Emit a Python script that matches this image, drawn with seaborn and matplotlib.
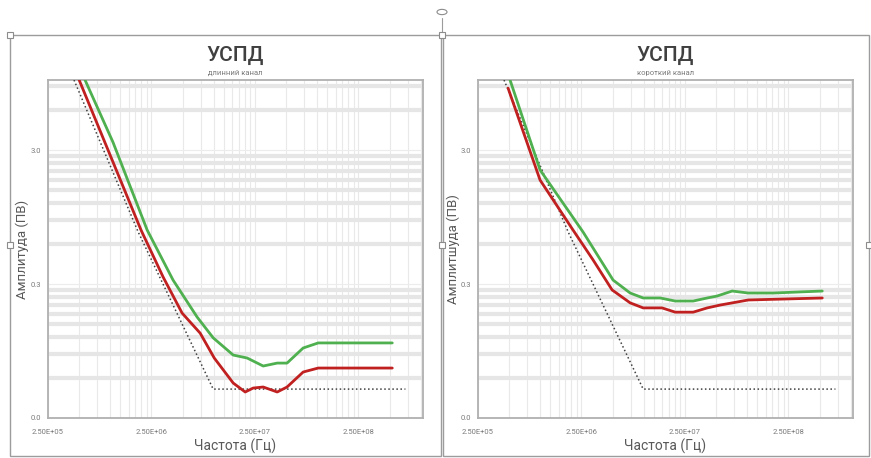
import numpy as np
import pandas as pd
import matplotlib
matplotlib.use("Agg")
import matplotlib.pyplot as plt
import seaborn as sns
from matplotlib.patches import Rectangle, Circle
from matplotlib.lines import Line2D

# ---------------- data ----------------
x_ticks = [2.5e5, 2.5e6, 2.5e7, 2.5e8]
x_tick_labels = ["2.50E+05", "2.50E+06", "2.50E+07", "2.50E+08"]
y_ticks = [0.03, 0.3, 3.0]
y_tick_labels = ["0.0", "0.3", "3.0"]

# mask (dotted), same on both charts
mask_freq = [4.46e5, 1.86e6, 9.86e6, 7.1e8]
mask_amp = [10.0, 0.733, 0.0493, 0.0493]

# long channel
long_green_freq = [5.7e5, 1.06e6, 2.27e6, 4.04e6, 6.9e6, 9.86e6, 1.54e7, 2.1e7,
                   3.0e7, 4.1e7, 5.1e7, 7.3e7, 1.02e8, 5.3e8]
long_green_amp = [10.0, 3.44, 0.759, 0.321, 0.170, 0.119, 0.0885, 0.0841,
                  0.0733, 0.0771, 0.0771, 0.0999, 0.109, 0.109]
long_red_freq = [5.0e5, 1.98e6, 3.24e6, 4.94e6, 7.38e6, 1.01e7, 1.54e7, 2.01e7,
                 2.4e7, 3.0e7, 4.1e7, 5.1e7, 7.3e7, 1.02e8, 5.3e8]
long_red_amp = [10.0, 0.759, 0.338, 0.182, 0.129, 0.0841, 0.0547, 0.0469,
                0.0502, 0.0511, 0.0469, 0.0511, 0.0661, 0.0708, 0.0708]

# short channel
short_green_freq = [5.1e5, 9.95e5, 2.59e6, 5.05e6, 7.38e6, 9.86e6, 1.44e7, 2.01e7,
                    3.0e7, 4.1e7, 5.1e7, 7.15e7, 1.02e8, 1.78e8, 5.3e8]
short_green_amp = [10.0, 2.13, 0.733, 0.321, 0.257, 0.236, 0.236, 0.224,
                   0.224, 0.236, 0.244, 0.266, 0.257, 0.257, 0.266]
short_red_freq = [4.88e5, 9.95e5, 2.07e6, 3.24e6, 4.94e6, 7.38e6, 9.86e6, 1.5e7,
                  2.01e7, 3.0e7, 4.1e7, 5.47e7, 1.02e8, 5.3e8]
short_red_amp = [8.7, 1.79, 0.759, 0.453, 0.271, 0.217, 0.199, 0.199,
                 0.185, 0.185, 0.199, 0.209, 0.228, 0.236]

titles = ["УСПД", "УСПД"]
subtitles = ["длинний канал", "короткий канал"]
ylabels = ["Амплитуда (ПВ)", "Амплитшуда (ПВ)"]
xlabel = "Частота (Гц)"

GREEN = "#4fb04f"
RED = "#c0201f"

sns.set_theme(style="white")
plt.rcParams['font.family'] = ['Roboto', 'DejaVu Sans']

W, H = 871, 458
fig = plt.figure(figsize=(W / 100, H / 100), dpi=100)

def fx(px):
    return px / W

def fy(py):
    return 1 - py / H

# panel frames (Excel chart objects)
for (x0, x1) in [(10, 441), (443, 869)]:
    fig.patches.append(Rectangle((fx(x0), fy(456)), fx(x1 - x0), (456 - 35) / H,
                                 transform=fig.transFigure, fill=False,
                                 edgecolor="#9c9c9c", lw=1.0, zorder=0))
# selection handles
fig.lines.append(Line2D([fx(442), fx(442)], [fy(18), fy(35)], transform=fig.transFigure,
                        color="#9c9c9c", lw=0.8))
fig.patches.append(Circle((fx(442), fy(12)), 5 / W, transform=fig.transFigure,
                          facecolor="white", edgecolor="#8c8c8c", lw=0.8))
for (hx, hy) in [(10, 35), (442, 35), (10, 245), (442, 245), (869, 245)]:
    fig.patches.append(Rectangle((fx(hx - 3), fy(hy + 3)), 6 / W, 6 / H,
                                 transform=fig.transFigure, facecolor="white",
                                 edgecolor="#8c8c8c", lw=0.8, zorder=5))

panels = [
    dict(left=48, green=(long_green_freq, long_green_amp), red=(long_red_freq, long_red_amp),
         ylab_x=22),
    dict(left=478, green=(short_green_freq, short_green_amp), red=(short_red_freq, short_red_amp),
         ylab_x=453),
]

top, bottom, width = 80, 418, 375
XMIN, XMAX = 2.5e5, 1.05e9
YMIN, YMAX = 0.03, 10.0
minor_x = [2.5e5 * m * 10 ** k for k in range(0, 4) for m in range(2, 10)]
minor_x = [v for v in minor_x if v < XMAX]
minor_y = [0.03 * m * 10 ** k for k in range(0, 3) for m in range(2, 10)]
minor_y = [v for v in minor_y if v < YMAX]

for i, p in enumerate(panels):
    ax = fig.add_axes([fx(p["left"]), fy(bottom), width / W, (bottom - top) / H])
    ax.set_xscale("log")
    ax.set_yscale("log")

    for fr, am, col, ls, lw in [(mask_freq, mask_amp, "#404040", ":", 1.1),
                                (p["green"][0], p["green"][1], GREEN, "-", 2.0),
                                (p["red"][0], p["red"][1], RED, "-", 2.0)]:
        df = pd.DataFrame({"f": fr, "a": am})
        sns.lineplot(data=df, x="f", y="a", ax=ax, color=col, linestyle=ls, lw=lw,
                     estimator=None, sort=False, zorder=3)

    ax.set_xticks(x_ticks)
    ax.set_xticklabels(x_tick_labels)
    ax.set_xticks(minor_x, minor=True)
    ax.set_xticklabels([], minor=True)
    ax.set_yticks(y_ticks)
    ax.set_yticklabels(y_tick_labels)
    ax.set_yticks(minor_y, minor=True)
    ax.set_yticklabels([], minor=True)
    ax.set_xlim(XMIN, XMAX)
    ax.set_ylim(YMIN, YMAX)
    ax.tick_params(which="both", length=0, labelsize=5.5, labelcolor="#7a7a7a")
    ax.tick_params(axis="x", pad=8)
    ax.tick_params(axis="y", pad=5)

    ax.xaxis.grid(True, which="both", color="#e9e9e9", lw=0.8)
    ax.yaxis.grid(True, which="minor", color="#e6e6e6", lw=3.0)
    ax.yaxis.grid(True, which="major", color="#ececec", lw=0.8)
    ax.set_axisbelow(True)

    for s in ax.spines.values():
        s.set_visible(True)
        s.set_color("#b0b0b0")
        s.set_linewidth(1.3)

    ax.set_xlabel(xlabel, fontsize=10, color="#595959")
    ax.set_ylabel(ylabels[i], fontsize=9.5, color="#595959")
    ax.xaxis.set_label_coords(0.5, -(446 - bottom) / (bottom - top))
    ax.xaxis.label.set_va("center")
    ax.yaxis.set_label_coords(-(p["left"] - p["ylab_x"]) / width, 0.5)
    ax.yaxis.label.set_va("center")

    cx = p["left"] + width / 2
    fig.text(fx(cx), fy(55), titles[i], ha="center", va="center", fontsize=15,
             color="#404040", fontweight="medium")
    fig.text(fx(cx), fy(73), subtitles[i], ha="center", va="center", fontsize=5.5,
             color="#7a7a7a")

fig.savefig("out.png", dpi=100)
